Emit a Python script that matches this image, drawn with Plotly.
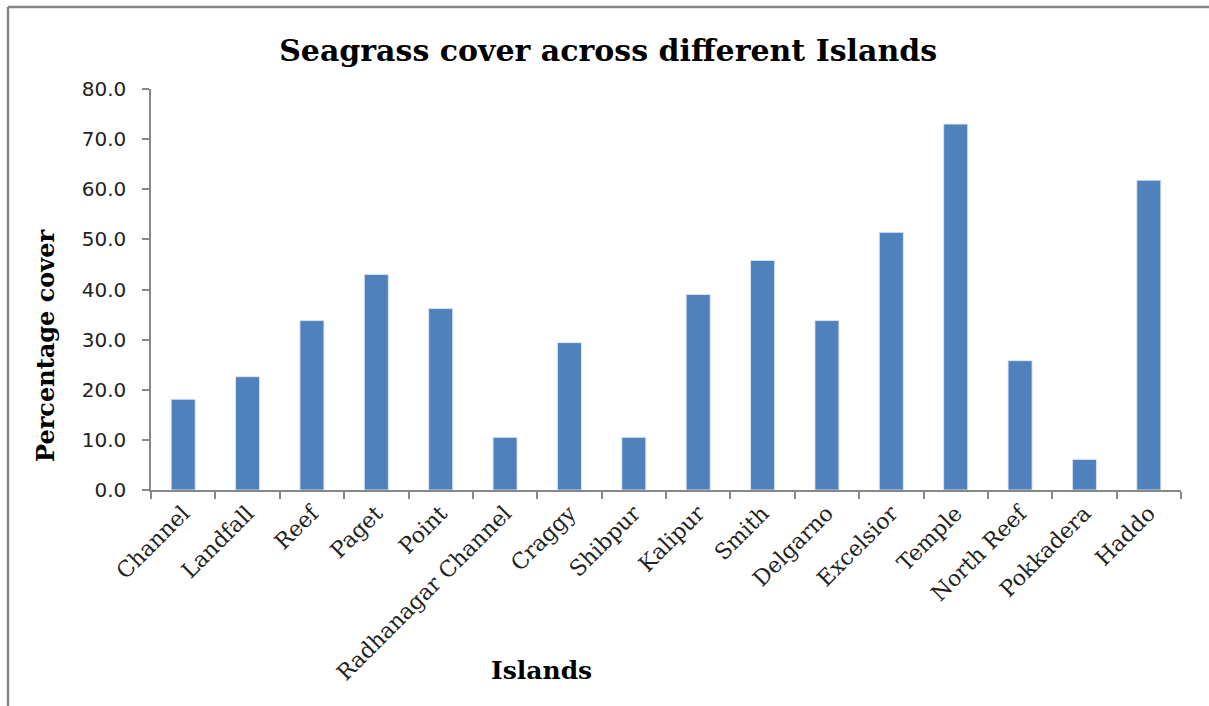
import plotly.graph_objects as go

# Seagrass percentage cover per island
islands = ["Channel", "Landfall", "Reef", "Paget", "Point", "Radhanagar Channel",
           "Craggy", "Shibpur", "Kalipur", "Smith", "Delgarno", "Excelsior",
           "Temple", "North Reef", "Pokkadera", "Haddo"]
cover = [18.1, 22.6, 33.8, 43.0, 36.2, 10.5, 29.4, 10.5, 39.0, 45.8, 33.8, 51.4,
         73.0, 25.8, 6.1, 61.8]
y_ticks = [0, 10, 20, 30, 40, 50, 60, 70, 80]

W, H = 1209, 706
L, R, T, B = 151, 28, 89, 216
pw, ph = W - L - R, H - T - B

def px(x):
    return (x - L) / pw

def py(y):
    return (H - B - y) / ph

serif = "DejaVu Serif"
axis_grey = "#878787"

fig = go.Figure(go.Bar(
    x=islands, y=cover,
    marker=dict(color="#4F81BD", line=dict(color="rgba(220,230,245,0.9)", width=1)),
))

fig.update_layout(
    width=W, height=H,
    margin=dict(l=L, r=R, t=T, b=B),
    paper_bgcolor="white", plot_bgcolor="white",
    bargap=0.627,
    showlegend=False,
    title=dict(text="<b>Seagrass cover across different Islands</b>",
               x=0.503, xanchor="center", y=1 - 50 / H, yanchor="middle",
               font=dict(family=serif, size=30, color="black")),
    xaxis=dict(
        type="category", tickson="boundaries", ticks="outside", ticklen=7,
        tickcolor=axis_grey, tickwidth=1.5, showline=True, linecolor=axis_grey,
        linewidth=1.5, showgrid=False, tickangle=-45,
        tickfont=dict(family=serif, size=22, color="#222"),
    ),
    yaxis=dict(
        range=[0, 80], tickvals=y_ticks, tickformat=".1f", ticks="outside",
        ticklen=7, tickcolor=axis_grey, tickwidth=1.5, showline=True,
        linecolor=axis_grey, linewidth=1.5, showgrid=False, zeroline=False,
        ticklabelstandoff=12,
        tickfont=dict(family="DejaVu Sans", size=20, color="#222"),
    ),
    annotations=[
        dict(text="<b>Percentage cover</b>", textangle=-90, xref="paper", yref="paper",
             x=px(45), y=py(346), xanchor="center", yanchor="middle", showarrow=False,
             font=dict(family=serif, size=24, color="black")),
        dict(text="<b>Islands</b>", xref="paper", yref="paper",
             x=px(541), y=py(670), xanchor="center", yanchor="middle", showarrow=False,
             font=dict(family=serif, size=25, color="black")),
    ],
    shapes=[
        dict(type="line", xref="paper", yref="paper", x0=px(8), x1=px(8),
             y0=py(H + 5), y1=py(7), line=dict(color="#868686", width=2.5)),
        dict(type="line", xref="paper", yref="paper", x0=px(8), x1=px(W + 5),
             y0=py(7), y1=py(7), line=dict(color="#868686", width=2.5)),
    ],
)

fig.write_html("out.html")
